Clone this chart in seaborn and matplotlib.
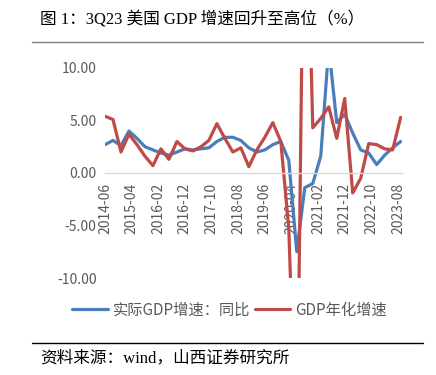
import matplotlib
matplotlib.use('Agg')

import pandas as pd
import seaborn as sns
import matplotlib.pyplot as plt

# quarterly data, 2014Q2 - 2023Q3 (%)
quarters = pd.period_range('2014Q2', '2023Q3', freq='Q')
yoy = [2.7, 3.1, 2.6,
       4.0, 3.3, 2.5, 2.2,
       1.9, 1.7, 2.0, 2.3,
       2.2, 2.3, 2.4, 3.0,
       3.4, 3.4, 3.1, 2.4,
       2.0, 2.2, 2.7, 3.0,
       1.2, -7.5, -1.4, -1.0,
       1.6, 12.0, 4.8, 5.6,
       3.8, 2.2, 1.9, 0.8,
       1.7, 2.4, 3.0]
annualized = [5.4, 5.1, 2.0,
              3.7, 2.7, 1.6, 0.7,
              2.3, 1.3, 3.0, 2.3,
              2.1, 2.5, 3.1, 4.7,
              3.3, 2.0, 2.4, 0.6,
              2.2, 3.4, 4.8, 3.0,
              -5.3, -28.0, 34.8, 4.3,
              5.2, 6.3, 3.3, 7.1,
              -1.9, -0.5, 2.8, 2.7,
              2.3, 2.2, 5.3]
series_names = ['实际GDP增速：同比', 'GDP年化增速']
tick_labels = ['2014-06', '2015-04', '2016-02', '2016-12', '2017-10', '2018-08',
               '2019-06', '2020-04', '2021-02', '2021-12', '2022-10', '2023-08']

sns.set_style('white')
plt.rcParams['font.family'] = ['Noto Sans CJK SC', 'DejaVu Sans']
plt.rcParams['axes.unicode_minus'] = False

# months since 2014-06 (quarter end months)
start = pd.Period('2014-06', freq='M')
months = [(q.asfreq('M', 'end') - start).n for q in quarters]

df = pd.DataFrame({
    'month': months * 2,
    'value': yoy + annualized,
    'series': [series_names[0]] * len(yoy) + [series_names[1]] * len(annualized),
})

fig = plt.figure(figsize=(4.36, 3.75), dpi=100)
ax = fig.add_axes([105 / 436, 1 - 278 / 375, 297 / 436, 210 / 375])

sns.lineplot(data=df, x='month', y='value', hue='series', ax=ax,
             palette=['#4A7EBB', '#BE4B48'], linewidth=2.3, legend=False)

ax.set_ylim(-10, 10)
ax.set_xlim(0, 111.5)

for s in ['top', 'right', 'left']:
    ax.spines[s].set_visible(False)
# move x axis to zero (this resets ticks, so set ticks afterwards)
ax.spines['bottom'].set_position(('data', 0))
ax.spines['bottom'].set_color('#D9D9D9')
ax.spines['bottom'].set_linewidth(1.0)

ax.set_yticks([-10, -5, 0, 5, 10])
ax.set_yticklabels(['%.2f' % v for v in [-10, -5, 0, 5, 10]])
tick_pos = [(pd.Period(t, freq='M') - start).n for t in tick_labels]
ax.set_xticks(tick_pos)
ax.set_xticklabels(tick_labels)
ax.tick_params(axis='x', direction='out', length=5, width=1, color='#D9D9D9',
               labelsize=10, labelcolor='#595959', pad=2, labelrotation=90)
ax.tick_params(axis='y', length=0, labelsize=10, labelcolor='#595959', pad=6)
ax.set_xlabel('')
ax.set_ylabel('')
ax.grid(False)

handles = [plt.Line2D([], [], color=c, lw=2.3) for c in ['#4A7EBB', '#BE4B48']]
leg = fig.legend(handles, series_names, loc='center', bbox_to_anchor=(0.527, 1 - 310 / 375),
                 ncol=2, frameon=False, fontsize=11, handlelength=2.3,
                 handletextpad=0.35, columnspacing=0.3)
for t in leg.get_texts():
    t.set_color('#595959')

cjk_serif = ['Liberation Serif', 'Noto Sans CJK SC']
fig.text(40 / 436, 1 - 19 / 375, '图 1：3Q23 美国 GDP 增速回升至高位（%）',
         fontsize=12, family=cjk_serif, va='center', ha='left', color='black')
fig.add_artist(plt.Line2D([32 / 436, 423 / 436], [1 - 42 / 375] * 2,
                          color='#7F7F7F', lw=1))
fig.add_artist(plt.Line2D([32 / 436, 423 / 436], [1 - 343 / 375] * 2,
                          color='black', lw=1))
fig.text(40 / 436, 1 - 358 / 375, '资料来源：wind，山西证券研究所',
         fontsize=12, family=cjk_serif, va='center', ha='left', color='black')

plt.savefig('out.png', dpi=100)
